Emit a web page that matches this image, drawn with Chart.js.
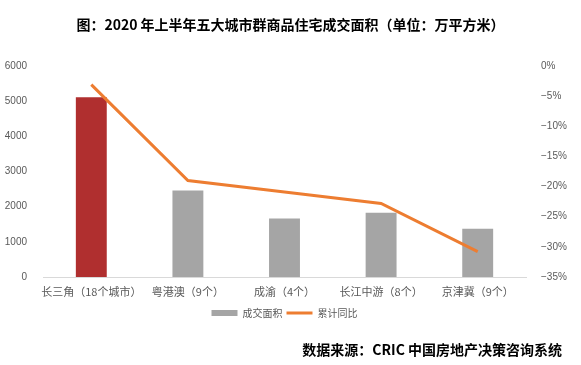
<!DOCTYPE html>
<html>
<head>
<meta charset="utf-8">
<script src="https://cdn.jsdelivr.net/npm/chart.js@4/dist/chart.umd.min.js"></script>
<style>
  html, body { margin: 0; padding: 0; background: #ffffff; }
  #wrap { position: relative; width: 581px; height: 365px; overflow: hidden; background: #fff; }
  #chart { position: absolute; left: 0; top: 0; }
  .title { position: absolute; left: 0; width: 581px; top: 14px; text-align: center;
           font-family: "Noto Sans CJK SC", sans-serif; font-weight: 700; font-size: 14px; line-height: 20px; color: #000; }
  .source { position: absolute; right: 19px; top: 339px; text-align: right;
            font-family: "Noto Sans CJK SC", sans-serif; font-weight: 700; font-size: 14px; line-height: 20px; color: #000; }
</style>
</head>
<body>
<div id="wrap">
  <canvas id="chart" width="581" height="365"></canvas>
  <div class="title">图：2020 年上半年五大城市群商品住宅成交面积（单位：万平方米）</div>
  <div class="source">数据来源：CRIC 中国房地产决策咨询系统</div>
</div>
<script>
const categories = ['长三角（18个城市）', '粤港澳（9个）', '成渝（4个）', '长江中游（8个）', '京津冀（9个）'];
const areaValues = [5110, 2460, 1660, 1830, 1370];
const yoyValues = [-3.1, -19.0, -20.9, -22.8, -30.8];
const leftTicks = [0, 1000, 2000, 3000, 4000, 5000, 6000];
const rightTicks = [0, -5, -10, -15, -20, -25, -30, -35];
const seriesNames = ['成交面积', '累计同比'];

const RED = '#b02f2f', GRAY = '#a5a5a5', ORANGE = '#ed7d31', LABEL = '#595959';
const FONT = '"Noto Sans CJK SC", sans-serif';

new Chart(document.getElementById('chart'), {
  data: {
    labels: categories,
    datasets: [
      {
        type: 'bar',
        label: seriesNames[0],
        data: areaValues,
        backgroundColor: areaValues.map((v, i) => i === 0 ? RED : GRAY),
        borderWidth: 0,
        barPercentage: 0.32,
        categoryPercentage: 1,
        yAxisID: 'y',
        order: 1
      },
      {
        type: 'line',
        label: seriesNames[1],
        data: yoyValues,
        borderColor: ORANGE,
        backgroundColor: ORANGE,
        borderWidth: 3,
        pointRadius: 0,
        tension: 0,
        fill: false,
        yAxisID: 'y2',
        order: 0
      }
    ]
  },
  options: {
    responsive: false,
    devicePixelRatio: 1,
    animation: false,
    layout: { padding: { top: 66, left: 0, right: 0, bottom: 37 } },
    plugins: {
      tooltip: { enabled: false },
      title: { display: false },
      legend: {
        display: true,
        position: 'bottom',
        fullSize: false,
        labels: {
          usePointStyle: true,
          pointStyleWidth: 26,
          boxWidth: 26,
          boxHeight: 6,
          padding: 4,
          color: LABEL,
          font: { family: FONT, size: 10 },
          generateLabels(chart) {
            const items = Chart.defaults.plugins.legend.labels.generateLabels(chart);
            items.sort((a, b) => a.datasetIndex - b.datasetIndex);
            items.forEach(it => {
              if (it.datasetIndex === 0) { it.fillStyle = GRAY; it.strokeStyle = GRAY; it.pointStyle = 'rect'; it.lineWidth = 0; }
              else { it.pointStyle = 'line'; it.strokeStyle = ORANGE; it.fillStyle = ORANGE; it.lineWidth = 3; }
            });
            return items;
          }
        }
      }
    },
    scales: {
      x: {
        grid: { display: false },
        border: { display: true, color: '#d9d9d9', width: 1 },
        ticks: { color: LABEL, font: { family: FONT, size: 11 }, padding: 0, maxRotation: 0, autoSkip: false },
        afterFit(scale) { scale.height = 27; }
      },
      y: {
        position: 'left',
        min: 0, max: 6000,
        afterBuildTicks(scale) { scale.ticks = leftTicks.map(v => ({ value: v })); },
        grid: { display: false },
        border: { display: false },
        ticks: { color: LABEL, font: { family: '"Liberation Sans", sans-serif', size: 10 }, padding: 8,
                 callback: v => String(v) },
        afterFit(scale) { scale.width = 43; }
      },
      y2: {
        position: 'right',
        min: -35, max: 0,
        afterBuildTicks(scale) { scale.ticks = rightTicks.map(v => ({ value: v })); },
        grid: { display: false },
        border: { display: false },
        ticks: {
          color: LABEL, font: { family: '"Liberation Sans", sans-serif', size: 10 }, padding: 7,
          callback: v => (v < 0 ? '−' + Math.abs(v) : v) + '%'
        },
        afterFit(scale) { scale.width = 55; }
      }
    }
  }
});
</script>
</body>
</html>
